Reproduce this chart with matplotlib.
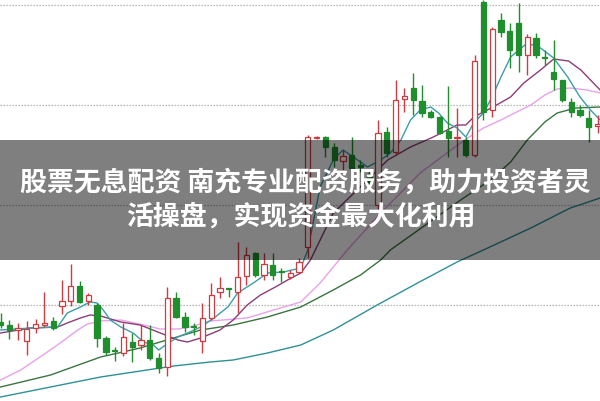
import matplotlib
matplotlib.use('Agg')
import matplotlib.pyplot as plt

# ── Candles (price units) ───────────────────────────────
opens = [3.83, 3.80, 3.75, 3.64, 3.77, 3.80, 3.84, 3.99, 4.04, 4.19,
         4.04, 4.00, 3.67, 3.55, 3.52, 3.63, 3.60, 3.65, 3.47, 3.38,
         4.07, 3.88, 3.79, 3.64, 3.87, 4.13, 4.17, 4.13, 4.29, 4.52,
         4.30, 4.40, 4.34, 4.28, 4.33, 4.58, 5.67, 5.68, 5.58, 5.44,
         5.50, 5.40, 5.31, 5.00, 5.73, 5.53, 6.06, 6.17, 6.04, 5.93,
         5.88, 5.74, 5.67, 5.65, 5.50, 7.03, 5.95, 6.85, 6.74, 6.82,
         6.50, 6.67, 6.48, 6.33, 6.25, 6.03, 5.95, 5.87, 5.79]
highs = [3.92, 3.85, 3.82, 3.84, 3.86, 4.13, 3.88, 4.25, 4.41, 4.24,
         4.12, 4.02, 3.69, 3.58, 3.82, 3.72, 3.80, 3.80, 3.52, 4.18,
         4.13, 3.93, 3.82, 4.02, 4.22, 4.28, 4.17, 4.63, 4.58, 4.53,
         4.52, 4.52, 4.37, 4.35, 4.47, 5.70, 5.69, 5.69, 5.62, 5.55,
         5.68, 5.45, 5.35, 5.85, 5.78, 6.25, 6.17, 6.32, 6.20, 5.95,
         5.89, 6.19, 5.97, 5.68, 6.50, 7.05, 6.78, 6.92, 6.82, 7.02,
         6.71, 6.72, 6.55, 6.65, 6.25, 6.07, 6.00, 5.95, 5.90]
lows = [3.77, 3.66, 3.65, 3.50, 3.72, 3.78, 3.75, 3.91, 3.99, 4.02,
        4.00, 3.58, 3.50, 3.44, 3.49, 3.43, 3.55, 3.45, 3.32, 3.29,
        3.87, 3.73, 3.70, 3.52, 3.85, 4.07, 4.08, 3.92, 4.20, 4.28,
        4.25, 4.25, 4.23, 4.26, 4.32, 4.47, 5.66, 5.48, 5.38, 5.35,
        5.32, 5.33, 5.15, 4.95, 5.48, 5.50, 5.93, 5.90, 5.88, 5.87,
        5.71, 5.48, 5.48, 5.48, 5.48, 5.85, 5.88, 6.68, 6.37, 6.33,
        6.30, 6.47, 6.40, 6.15, 6.03, 5.88, 5.88, 5.63, 5.72]
closes = [3.80, 3.75, 3.77, 3.76, 3.81, 3.82, 3.77, 4.04, 4.19, 4.03,
          4.10, 3.67, 3.53, 3.54, 3.68, 3.58, 3.65, 3.47, 3.37, 4.07,
          3.88, 3.78, 3.78, 3.87, 4.10, 4.17, 4.16, 4.28, 4.50, 4.30,
          4.41, 4.30, 4.33, 4.32, 4.43, 5.68, 5.68, 5.58, 5.45, 5.49,
          5.37, 5.38, 5.23, 5.72, 5.52, 6.05, 6.09, 6.05, 5.92, 5.88,
          5.72, 5.67, 5.68, 5.50, 6.44, 5.93, 6.76, 6.73, 6.55, 6.50,
          6.68, 6.50, 6.47, 6.26, 6.05, 5.93, 5.90, 5.78, 5.81]

# ── Moving averages (x = candle index) ──────────────────
ma5_x = [0, 3.4, 6.5, 7.6, 9.1, 10.2, 11, 11.7, 12.5, 13.7, 15.1, 16.3, 17.4,
         18, 18.8, 20.2, 21.3, 22.8, 24.3, 25.9, 27, 28.8, 30.4, 32.2, 34.2,
         35, 36.4, 37.9, 39, 40.2, 41.8, 43.3, 44.4, 45.6, 46.7, 47.8, 49,
         49.9, 50.9, 52, 53, 53.9, 55, 56, 57, 58.1, 60, 61.5, 63, 64.6, 66,
         67.2, 68.3]
ma5_y = [3.75, 3.77, 3.78, 3.92, 3.98, 4.03, 4.02, 3.95, 3.85, 3.78, 3.72,
         3.63, 3.60, 3.55, 3.60, 3.68, 3.72, 3.78, 3.87, 3.98, 4.12, 4.22,
         4.32, 4.33, 4.37, 4.55, 5.18, 5.45, 5.55, 5.48, 5.38, 5.45, 5.52,
         5.65, 5.85, 5.95, 5.98, 5.92, 5.82, 5.77, 5.68, 5.82, 5.92, 6.08,
         6.28, 6.48, 6.62, 6.57, 6.47, 6.28, 6.08, 5.95, 5.85]

ma10_x = [0, 3.4, 6.5, 7.6, 9.1, 10.2, 11.4, 13.7, 15.9, 18.2, 20.2, 21.3,
          22.8, 25, 26.5, 28.1, 29.6, 31.1, 32.7, 34.2, 35.3, 37.9, 41.8,
          44.1, 46.7, 49.3, 52, 53, 53.9, 56.1, 58.1, 59.6, 61.5, 63, 64.7,
          66.1, 67.2, 68.3]
ma10_y = [3.72, 3.77, 3.78, 3.82, 3.87, 3.90, 3.89, 3.83, 3.80, 3.72, 3.65,
          3.63, 3.67, 3.75, 3.85, 4.00, 4.10, 4.17, 4.25, 4.32, 4.45, 4.92,
          5.25, 5.45, 5.58, 5.68, 5.80, 5.80, 5.88, 5.98, 6.08, 6.22, 6.35,
          6.46, 6.44, 6.35, 6.25, 6.15]

ma20_x = [0, 2.3, 4.5, 6.8, 8.8, 9.9, 11.4, 13.7, 16.3, 18.2, 20.2, 21.6,
          23.9, 28.1, 31.1, 34.2, 36.4, 39.5, 43.3, 47.8, 51.3, 53.2, 55,
          57, 58.1, 60.4, 62, 63.4, 64.9, 66.8, 68.3]
ma20_y = [3.25, 3.35, 3.48, 3.62, 3.75, 3.81, 3.84, 3.85, 3.80, 3.76, 3.76,
          3.78, 3.84, 3.87, 3.95, 4.03, 4.22, 4.55, 4.92, 5.32, 5.55, 5.67,
          5.77, 5.85, 5.90, 6.00, 6.10, 6.16, 6.17, 6.15, 6.12]

ma60_x = [0, 5.7, 11.4, 15.9, 19.7, 22.8, 26.5, 30.4, 34.2, 37.9, 41, 43.3,
          44.4, 52.4, 55.8, 58.1, 60, 62, 63.4, 65.5, 68.3]
ma60_y = [3.18, 3.30, 3.48, 3.57, 3.67, 3.75, 3.80, 3.88, 3.98, 4.15, 4.30,
          4.45, 4.55, 5.05, 5.25, 5.43, 5.65, 5.83, 5.92, 5.97, 5.98]

ma120_x = [0, 11.4, 19.7, 23.9, 26.5, 30.4, 34.2, 37.9, 42.9, 47.5, 52, 55,
           60.4, 64.9, 68.3]
ma120_y = [3.08, 3.28, 3.39, 3.43, 3.45, 3.52, 3.60, 3.75, 4.00, 4.22, 4.43,
           4.55, 4.77, 4.97, 5.07]

grid_levels = [4.0, 5.0, 6.0, 7.0]
title_lines = ["股票无息配资 南充专业配资服务，助力投资者灵",
               "活操盘，实现资金最大化利用"]

RED = '#d23a3f'
GREEN = '#1f8e2d'

# ── Figure ──────────────────────────────────────────────
fig = plt.figure(figsize=(6, 4.01), dpi=100)
ax = fig.add_axes([0, 0, 1, 1])
ax.set_xlim(-0.06, 68.28)
ax.set_ylim(3.04, 7.05)
ax.axis('off')

for lv in grid_levels:
    ax.axhline(lv, color='#a5a5a5', lw=0.9, ls=(0, (1.0, 1.4)), zorder=1)

ax.plot(ma120_x, ma120_y, color='#2f9096', lw=1.0, zorder=2)
ax.plot(ma60_x, ma60_y, color='#3a7440', lw=1.0, zorder=2)
ax.plot(ma20_x, ma20_y, color='#e8a2e8', lw=1.0, zorder=2)
ax.plot(ma10_x, ma10_y, color='#8c3d78', lw=1.0, zorder=2)
ax.plot(ma5_x, ma5_y, color='#3a9fa8', lw=1.0, zorder=2)

# candles
for i, (o, h, l, c) in enumerate(zip(opens, highs, lows, closes)):
    up = c >= o
    col = RED if up else GREEN
    ax.vlines(i, l, h, color=col, lw=1.0, zorder=3)
    body = max(abs(c - o), 0.01)
    ax.bar(i, body, bottom=min(o, c), width=0.6,
           facecolor='white' if up else col, edgecolor=col, lw=0.9, zorder=4)

# banner
ax.axhspan(4.45, 5.65, color='black', alpha=0.5, lw=0, zorder=5)
font = ['Noto Sans CJK SC', 'DejaVu Sans']
ax.text(0.508, 0.544, title_lines[0], transform=ax.transAxes, ha='center',
        va='center', color='white', fontsize=19.4, fontweight='bold',
        family=font, zorder=6)
ax.text(0.502, 0.459, title_lines[1], transform=ax.transAxes, ha='center',
        va='center', color='white', fontsize=19.4, fontweight='bold',
        family=font, zorder=6)

fig.savefig('out.png', dpi=100)
